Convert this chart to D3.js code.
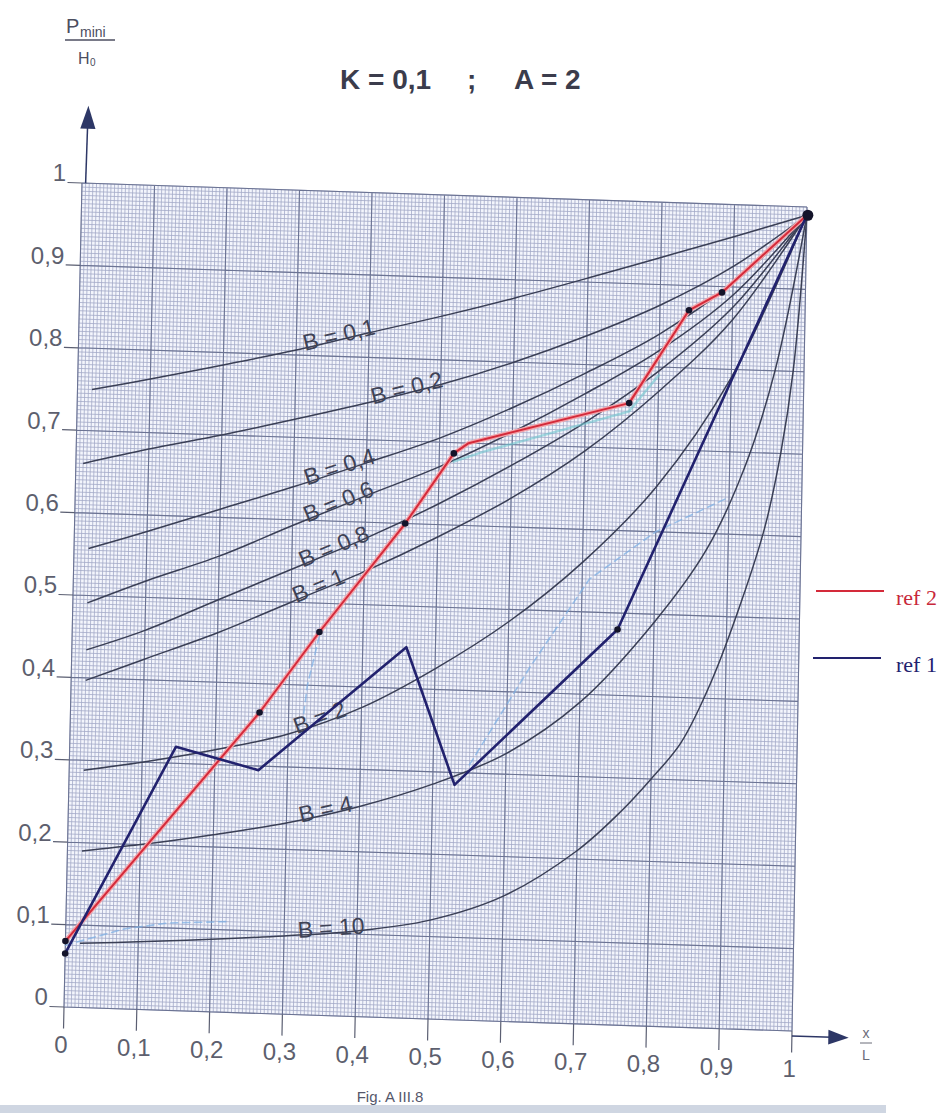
<!DOCTYPE html>
<html>
<head>
<meta charset="utf-8">
<script src="https://cdn.jsdelivr.net/npm/d3@7"></script>
<style>
  body { margin: 0; background: #ffffff; }
  svg { display: block; }
</style>
</head>
<body>
<svg id="chart" width="951" height="1113"></svg>
<script>
// ---------------- data ----------------
const xTicks = [0, 0.1, 0.2, 0.3, 0.4, 0.5, 0.6, 0.7, 0.8, 0.9, 1];
const xTickLabels = ["0", "0,1", "0,2", "0,3", "0,4", "0,5", "0,6", "0,7", "0,8", "0,9", "1"];
const yTicks = [0, 0.1, 0.2, 0.3, 0.4, 0.5, 0.6, 0.7, 0.8, 0.9, 1];
const yTickLabels = ["0", "0,1", "0,2", "0,3", "0,4", "0,5", "0,6", "0,7", "0,8", "0,9", "1"];

// family of theoretical curves P_mini/H0 against x/L, one per value of B
const curveB01 = [[0.02,0.75],[0.1,0.765],[0.2,0.785],[0.3,0.806],[0.4,0.83],[0.5,0.853],[0.6,0.878],[0.7,0.905],[0.8,0.933],[0.9,0.961],[1,0.99]];
const curveB02 = [[0.01,0.66],[0.1,0.68],[0.2,0.70],[0.3,0.722],[0.4,0.745],[0.5,0.77],[0.6,0.80],[0.7,0.835],[0.8,0.875],[0.9,0.925],[1,0.99]];
const curveB04 = [[0.02,0.557],[0.1,0.58],[0.2,0.61],[0.3,0.64],[0.4,0.672],[0.5,0.705],[0.6,0.745],[0.7,0.79],[0.8,0.84],[0.9,0.905],[1,0.99]];
const curveB06 = [[0.02,0.491],[0.1,0.52],[0.2,0.553],[0.3,0.593],[0.4,0.632],[0.5,0.67],[0.6,0.715],[0.7,0.765],[0.8,0.82],[0.9,0.89],[1,0.99]];
const curveB08 = [[0.02,0.434],[0.1,0.46],[0.2,0.50],[0.3,0.54],[0.4,0.58],[0.5,0.625],[0.6,0.675],[0.7,0.73],[0.8,0.795],[0.9,0.875],[1,0.99]];
const curveB1  = [[0.02,0.397],[0.1,0.425],[0.2,0.46],[0.3,0.50],[0.4,0.54],[0.5,0.585],[0.6,0.635],[0.7,0.695],[0.8,0.77],[0.9,0.86],[1,0.99]];
const curveB2  = [[0.02,0.288],[0.1,0.30],[0.2,0.318],[0.3,0.34],[0.4,0.375],[0.5,0.425],[0.6,0.485],[0.7,0.56],[0.8,0.655],[0.9,0.79],[1,0.99]];
const curveB4  = [[0.02,0.19],[0.1,0.20],[0.2,0.215],[0.3,0.232],[0.4,0.255],[0.5,0.285],[0.6,0.325],[0.7,0.39],[0.8,0.49],[0.87,0.58],[0.92,0.68],[0.96,0.80],[1,0.99]];
const curveB10 = [[0.02,0.078],[0.1,0.082],[0.2,0.088],[0.3,0.095],[0.4,0.104],[0.5,0.12],[0.6,0.152],[0.7,0.21],[0.76,0.26],[0.8,0.30],[0.84,0.345],[0.88,0.42],[0.92,0.52],[0.95,0.61],[0.97,0.70],[0.985,0.80],[1,0.99]];
const curveNames = ["B = 0,1", "B = 0,2", "B = 0,4", "B = 0,6", "B = 0,8", "B = 1", "B = 2", "B = 4", "B = 10"];

// measured profiles
const ref2 = [[0,0.08],[0.26,0.365],[0.34,0.465],[0.455,0.60],[0.52,0.687],[0.54,0.70],[0.76,0.755],[0.84,0.87],[0.885,0.893],[1,0.99]];
const ref1 = [[0,0.065],[0.146,0.32],[0.26,0.295],[0.46,0.45],[0.53,0.285],[0.75,0.48],[1,0.99]];
const ref2Dots = [[0,0.08],[0.26,0.365],[0.34,0.465],[0.455,0.60],[0.52,0.687],[0.76,0.755],[0.84,0.87],[0.885,0.893]];
const ref1Dots = [[0,0.065],[0.75,0.48]];
const endPoint = [1, 0.99];

// pencil traces left on the sheet
const traceA = [[0.0,0.075],[0.08,0.097],[0.14,0.106],[0.22,0.11]];
const traceB = [[0.55,0.31],[0.63,0.43],[0.71,0.54],[0.8,0.6],[0.9,0.645]];
const traceC = [[0.34,0.46],[0.325,0.40],[0.32,0.36]];
const traceD = [[0.52,0.677],[0.56,0.69],[0.76,0.745],[0.8,0.79]];

const legendNames = ["ref 2", "ref 1"];

// ---------------- layout ----------------
const svg = d3.select("#chart");
const x = d3.scaleLinear().domain([0, 1]).range([0, 1]);
const y = d3.scaleLinear().domain([0, 1]).range([1, 0]);

// the sheet sits slightly askew: plot corners on the page
const corner = { tl: [82, 183], tr: [807, 207], bl: [64, 1007], br: [792, 1031] };
function warp(u, v) {
  const a = (1 - u) * (1 - v), b = u * (1 - v), c = (1 - u) * v, d = u * v;
  return [
    a * corner.tl[0] + b * corner.tr[0] + c * corner.bl[0] + d * corner.br[0],
    a * corner.tl[1] + b * corner.tr[1] + c * corner.bl[1] + d * corner.br[1]
  ];
}
const P = (dx, dy) => warp(x(dx), y(dy));
const seg = (p, q) => `M${p[0]},${p[1]}L${q[0]},${q[1]}`;

const curves = [curveB01, curveB02, curveB04, curveB06, curveB08, curveB1, curveB2, curveB4, curveB10];
const labelAt = [0.36, 0.455, 0.365, 0.365, 0.36, 0.34, 0.345, 0.355, 0.365];

// ---------------- graph paper ----------------
const gPaper = svg.append("g");
gPaper.append("path")
  .attr("d", `M${P(0,1)}L${P(1,1)}L${P(1,0)}L${P(0,0)}Z`)
  .attr("fill", "#f3f5fc");

const minor = d3.range(0, 1.0001, 0.005);
let dMinor = "";
minor.forEach(t => {
  dMinor += seg(P(t, 0), P(t, 1));
  dMinor += seg(P(0, t), P(1, t));
});
gPaper.append("path").attr("d", dMinor)
  .attr("stroke", "#a3aac8").attr("stroke-width", 0.8).attr("fill", "none");

let dMajor = "";
xTicks.forEach(t => { dMajor += seg(P(t, 0), P(t, 1)); });
yTicks.forEach(t => { dMajor += seg(P(0, t), P(1, t)); });
gPaper.append("path").attr("d", dMajor)
  .attr("stroke", "#6b7393").attr("stroke-width", 1.1).attr("fill", "none");

// ---------------- axes ----------------
const axisCol = "#5b5f72";
const gAxis = svg.append("g");
// tick marks outside the sheet
let dTicks = "";
yTicks.forEach(t => { dTicks += seg(warp(-0.02, y(t)), warp(0, y(t))); });
xTicks.forEach(t => { dTicks += seg(warp(x(t), 1), warp(x(t), 1.026)); });
gAxis.append("path").attr("d", dTicks).attr("stroke", axisCol).attr("stroke-width", 1.2);

// vertical axis arrow
gAxis.append("path").attr("d", seg(warp(0.005, 0), warp(0.006, -0.07)))
  .attr("stroke", "#2d3766").attr("stroke-width", 1.5);
{
  const tip = warp(0.0065, -0.094), b1 = warp(-0.004, -0.066), b2 = warp(0.017, -0.066);
  gAxis.append("path").attr("d", `M${tip}L${b1}L${b2}Z`).attr("fill", "#2d3766");
}
// horizontal axis arrow
gAxis.append("path").attr("d", seg(warp(1, 1.006), warp(1.055, 1.006)))
  .attr("stroke", "#2d3766").attr("stroke-width", 1.5);
{
  const tip = warp(1.078, 1.006), b1 = warp(1.05, 0.997), b2 = warp(1.05, 1.015);
  gAxis.append("path").attr("d", `M${tip}L${b1}L${b2}Z`).attr("fill", "#2d3766");
}

const tickFont = "'Liberation Sans', Arial, sans-serif";
yTicks.forEach((t, i) => {
  const p = warp(-0.022, y(t));
  gAxis.append("text").attr("x", p[0]).attr("y", p[1] - 1)
    .attr("text-anchor", "end").attr("font-family", tickFont)
    .attr("font-size", 24).attr("fill", "#5d5f6e").text(yTickLabels[i]);
});
xTicks.forEach((t, i) => {
  const p = warp(x(t), 1.056);
  gAxis.append("text").attr("x", p[0] - 2).attr("y", p[1])
    .attr("text-anchor", "middle").attr("font-family", tickFont)
    .attr("font-size", 24).attr("fill", "#5d5f6e").text(xTickLabels[i]);
});

// axis titles
const yt = svg.append("g").attr("font-family", tickFont).attr("fill", "#4c4e60");
yt.append("text").attr("x", 66).attr("y", 33).attr("font-size", 20).text("P");
yt.append("text").attr("x", 80).attr("y", 37).attr("font-size", 14).text("mini");
yt.append("line").attr("x1", 65).attr("x2", 115).attr("y1", 40).attr("y2", 40)
  .attr("stroke", "#4c4e60").attr("stroke-width", 1.4);
yt.append("text").attr("x", 78).attr("y", 64).attr("font-size", 16).text("H");
yt.append("text").attr("x", 90).attr("y", 66).attr("font-size", 10).text("0");

const xt = svg.append("g").attr("font-family", tickFont).attr("fill", "#6a6c78");
xt.append("text").attr("x", 866).attr("y", 1038).attr("font-size", 14).attr("text-anchor", "middle").text("x");
xt.append("line").attr("x1", 860).attr("x2", 872).attr("y1", 1043).attr("y2", 1043)
  .attr("stroke", "#6a6c78").attr("stroke-width", 1);
xt.append("text").attr("x", 866).attr("y", 1060).attr("font-size", 14).attr("text-anchor", "middle").text("L");

// title
const title = svg.append("g").attr("font-family", tickFont).attr("font-weight", "bold")
  .attr("font-size", 28).attr("fill", "#3b3c4c");
title.append("text").attr("x", 340).attr("y", 89).text("K = 0,1");
title.append("text").attr("x", 467).attr("y", 89).text(";");
title.append("text").attr("x", 514).attr("y", 89).text("A = 2");

// caption
svg.append("text").attr("x", 390).attr("y", 1102).attr("text-anchor", "middle")
  .attr("font-family", tickFont).attr("font-size", 15).attr("fill", "#55576a")
  .text("Fig. A III.8");
svg.append("rect").attr("x", 0).attr("y", 1105).attr("width", 886).attr("height", 8)
  .attr("fill", "#cfd6e2");

// ---------------- curves of the family ----------------
const smooth = d3.line()
  .x(d => P(d[0], d[1])[0]).y(d => P(d[0], d[1])[1])
  .curve(d3.curveCatmullRom.alpha(0.5));
const straight = d3.line()
  .x(d => P(d[0], d[1])[0]).y(d => P(d[0], d[1])[1]);

const gCurves = svg.append("g");
curves.forEach(c => {
  gCurves.append("path").attr("d", smooth(c))
    .attr("fill", "none").attr("stroke", "#3a3f55").attr("stroke-width", 1.5);
});

function valueAt(pts, xv) {
  for (let i = 1; i < pts.length; i++) {
    if (xv <= pts[i][0]) {
      const t = (xv - pts[i - 1][0]) / (pts[i][0] - pts[i - 1][0]);
      return pts[i - 1][1] + t * (pts[i][1] - pts[i - 1][1]);
    }
  }
  return pts[pts.length - 1][1];
}
curves.forEach((c, i) => {
  const xv = labelAt[i];
  const p = P(xv, valueAt(c, xv));
  const p0 = P(xv - 0.03, valueAt(c, xv - 0.03));
  const p1 = P(xv + 0.03, valueAt(c, xv + 0.03));
  const ang = Math.atan2(p1[1] - p0[1], p1[0] - p0[0]) * 180 / Math.PI;
  gCurves.append("text")
    .attr("transform", `translate(${p[0]},${p[1]}) rotate(${ang})`)
    .attr("y", 3).attr("text-anchor", "middle")
    .attr("font-family", tickFont).attr("font-size", 23).attr("fill", "#3f4356")
    .text(curveNames[i]);
});

// ---------------- pencil traces ----------------
const gTrace = svg.append("g").attr("fill", "none").attr("stroke-linecap", "round");
[traceA, traceB, traceC].forEach(t => {
  gTrace.append("path").attr("d", straight(t))
    .attr("stroke", "#7fb0e4").attr("stroke-width", 1.6)
    .attr("stroke-dasharray", "7,5").attr("opacity", 0.75);
});
gTrace.append("path").attr("d", straight(traceD))
  .attr("stroke", "#6fc6cf").attr("stroke-width", 2.5).attr("opacity", 0.6);

// ---------------- measured profiles ----------------
const gRef = svg.append("g").attr("fill", "none").attr("stroke-linejoin", "round");
gRef.append("path").attr("d", straight(ref2)).attr("stroke", "#f2a4ab").attr("stroke-width", 4.5);
gRef.append("path").attr("d", straight(ref2)).attr("stroke", "#d42a3a").attr("stroke-width", 2);
gRef.append("path").attr("d", straight(ref1)).attr("stroke", "#22226e").attr("stroke-width", 2.6);

const gDots = svg.append("g").attr("fill", "#14142a");
ref2Dots.forEach(d => {
  const p = P(d[0], d[1]);
  gDots.append("circle").attr("cx", p[0]).attr("cy", p[1]).attr("r", 3.3);
});
ref1Dots.forEach(d => {
  const p = P(d[0], d[1]);
  gDots.append("circle").attr("cx", p[0]).attr("cy", p[1]).attr("r", 3.3);
});
{
  const p = P(endPoint[0], endPoint[1]);
  gDots.append("circle").attr("cx", p[0] + 1).attr("cy", p[1]).attr("r", 5.5);
}

// ---------------- legend ----------------
const legend = svg.append("g").attr("font-family", "'Liberation Serif', 'Times New Roman', serif").attr("font-size", 22);
legend.append("line").attr("x1", 816).attr("x2", 884).attr("y1", 591).attr("y2", 591)
  .attr("stroke", "#d42a3a").attr("stroke-width", 2);
legend.append("text").attr("x", 896).attr("y", 605).attr("fill", "#c8283a").text(legendNames[0]);
legend.append("line").attr("x1", 813).attr("x2", 881).attr("y1", 658).attr("y2", 658)
  .attr("stroke", "#22226e").attr("stroke-width", 2);
legend.append("text").attr("x", 896).attr("y", 672).attr("fill", "#22226e").text(legendNames[1]);
</script>
</body>
</html>
